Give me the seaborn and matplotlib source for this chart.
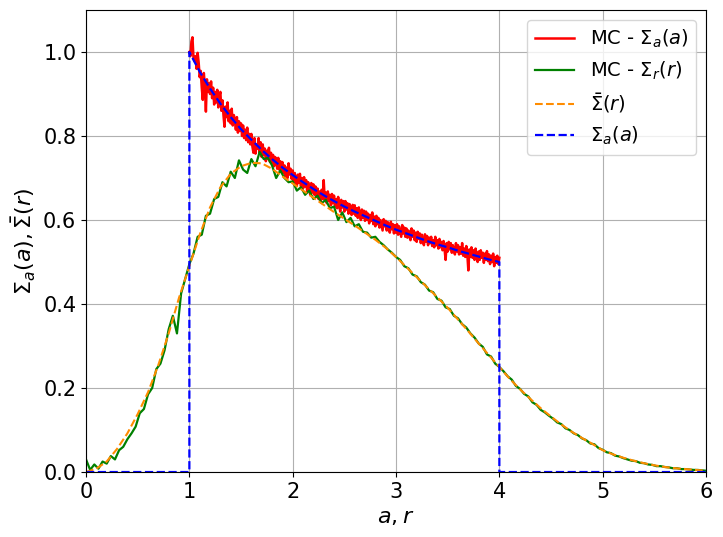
import numpy as np
import matplotlib
matplotlib.use('Agg')
import matplotlib.pyplot as plt
import seaborn as sns

# analytic ring profile Sigma_a(a)
sig_a_x = [0.0, 1.0, 1.0, 1.1, 1.2, 1.3, 1.4, 1.5, 1.6, 1.7, 1.8, 1.9, 2.0,
           2.1, 2.2, 2.3, 2.4, 2.5, 2.6, 2.7, 2.8, 2.9, 3.0, 3.1, 3.2, 3.3,
           3.4, 3.5, 3.6, 3.7, 3.8, 3.9, 4.0, 4.0, 6.0]
sig_a_y = [0.0, 0.0, 1.0, 0.953, 0.913, 0.877, 0.845, 0.816, 0.791, 0.767,
           0.745, 0.725, 0.707, 0.690, 0.674, 0.659, 0.645, 0.632, 0.620,
           0.609, 0.598, 0.587, 0.577, 0.568, 0.559, 0.550, 0.542, 0.535,
           0.527, 0.520, 0.513, 0.506, 0.500, 0.0, 0.0]

# smoothed profile Sigma_bar(r), every 0.1
sig_bar = [0.000, 0.008, 0.025, 0.055, 0.092, 0.138, 0.190, 0.255, 0.330, 0.415,
           0.490, 0.565, 0.630, 0.678, 0.710, 0.728, 0.736, 0.735, 0.722, 0.704,
           0.687, 0.670, 0.653, 0.636, 0.619, 0.603, 0.587, 0.570, 0.553, 0.534,
           0.512, 0.488, 0.464, 0.440, 0.416, 0.391, 0.363, 0.335, 0.306, 0.278,
           0.250, 0.222, 0.197, 0.174, 0.152, 0.132, 0.113, 0.096, 0.081, 0.067,
           0.052, 0.042, 0.034, 0.027, 0.021, 0.016, 0.012, 0.009, 0.007, 0.005,
           0.003]

# Monte Carlo Sigma_a(a), bins of 0.01 from 1 to 4
mc_a = [1.000, 0.990, 1.025, 1.035, 0.985, 0.978, 0.990, 0.960, 0.998, 0.975,
        0.940, 0.955, 0.915, 0.886, 0.950, 0.920, 0.858, 0.935, 0.905, 0.925,
        0.900, 0.930, 0.890, 0.915, 0.875, 0.905, 0.880, 0.910, 0.868, 0.895,
        0.905, 0.860, 0.885, 0.850, 0.822, 0.870, 0.845, 0.880, 0.835, 0.860,
        0.830, 0.865, 0.825, 0.850, 0.840, 0.815, 0.845, 0.808, 0.835, 0.812,
        0.830, 0.800, 0.825, 0.795, 0.815, 0.790, 0.820, 0.785, 0.805, 0.780,
        0.805, 0.775, 0.760, 0.795, 0.758, 0.780, 0.770, 0.795, 0.760, 0.785,
        0.750, 0.780, 0.755, 0.770, 0.740, 0.765, 0.745, 0.772, 0.738, 0.760,
        0.735, 0.755, 0.728, 0.750, 0.745, 0.722, 0.748, 0.720, 0.740, 0.715,
        0.738, 0.712, 0.730, 0.705, 0.725, 0.700, 0.735, 0.708, 0.722, 0.698,
        0.718, 0.690, 0.712, 0.695, 0.682, 0.708, 0.688, 0.710, 0.680, 0.700,
        0.675, 0.702, 0.680, 0.695, 0.668, 0.690, 0.672, 0.660, 0.688, 0.665,
        0.685, 0.660, 0.680, 0.655, 0.675, 0.650, 0.668, 0.645, 0.672, 0.650,
        0.695, 0.648, 0.665, 0.640, 0.668, 0.645, 0.660, 0.635, 0.662, 0.640,
        0.658, 0.632, 0.650, 0.628, 0.655, 0.635, 0.620, 0.648, 0.630, 0.645,
        0.620, 0.645, 0.625, 0.640, 0.615, 0.638, 0.622, 0.612, 0.636, 0.615,
        0.635, 0.610, 0.628, 0.605, 0.630, 0.612, 0.600, 0.625, 0.605, 0.622,
        0.598, 0.620, 0.600, 0.615, 0.592, 0.612, 0.598, 0.618, 0.590, 0.608,
        0.585, 0.610, 0.590, 0.605, 0.582, 0.600, 0.588, 0.575, 0.602, 0.585,
        0.598, 0.575, 0.595, 0.580, 0.570, 0.596, 0.578, 0.590, 0.568, 0.588,
        0.570, 0.590, 0.565, 0.585, 0.572, 0.560, 0.588, 0.568, 0.582, 0.560,
        0.580, 0.558, 0.575, 0.562, 0.552, 0.580, 0.560, 0.575, 0.552, 0.570,
        0.548, 0.572, 0.555, 0.568, 0.545, 0.565, 0.550, 0.540, 0.566, 0.548,
        0.562, 0.540, 0.558, 0.545, 0.560, 0.538, 0.552, 0.535, 0.560, 0.540,
        0.552, 0.532, 0.555, 0.535, 0.548, 0.528, 0.550, 0.530, 0.505, 0.545,
        0.525, 0.548, 0.530, 0.545, 0.522, 0.540, 0.528, 0.518, 0.545, 0.525,
        0.540, 0.518, 0.535, 0.520, 0.545, 0.515, 0.532, 0.512, 0.538, 0.518,
        0.480, 0.530, 0.512, 0.535, 0.510, 0.528, 0.505, 0.532, 0.512, 0.500,
        0.525, 0.505, 0.528, 0.510, 0.522, 0.498, 0.520, 0.505, 0.526, 0.502,
        0.518, 0.495, 0.515, 0.500, 0.520, 0.490, 0.512, 0.498, 0.515, 0.495,
        0.510]

# Monte Carlo Sigma_r(r), bins of 0.04 from 0 to 6
mc_r = [0.030, 0.005, 0.018, 0.008, 0.025, 0.020, 0.038, 0.030, 0.052, 0.060,
        0.078, 0.092, 0.108, 0.140, 0.150, 0.185, 0.200, 0.245, 0.258, 0.290,
        0.340, 0.372, 0.330, 0.425, 0.460, 0.495, 0.520, 0.560, 0.565, 0.610,
        0.615, 0.650, 0.655, 0.690, 0.680, 0.715, 0.700, 0.742, 0.720, 0.712,
        0.745, 0.728, 0.762, 0.745, 0.748, 0.730, 0.700, 0.718, 0.700, 0.690,
        0.692, 0.670, 0.678, 0.660, 0.670, 0.650, 0.658, 0.640, 0.648, 0.628,
        0.632, 0.600, 0.618, 0.595, 0.605, 0.585, 0.590, 0.572, 0.570, 0.558,
        0.560, 0.548, 0.540, 0.530, 0.522, 0.512, 0.505, 0.490, 0.485, 0.470,
        0.466, 0.452, 0.446, 0.432, 0.428, 0.412, 0.408, 0.392, 0.388, 0.372,
        0.366, 0.352, 0.344, 0.330, 0.320, 0.306, 0.298, 0.280, 0.275, 0.258,
        0.250, 0.240, 0.228, 0.220, 0.205, 0.198, 0.186, 0.180, 0.166, 0.160,
        0.148, 0.142, 0.134, 0.127, 0.118, 0.114, 0.104, 0.100, 0.092, 0.088,
        0.080, 0.076, 0.068, 0.066, 0.057, 0.053, 0.047, 0.045, 0.039, 0.037,
        0.033, 0.030, 0.027, 0.026, 0.022, 0.021, 0.018, 0.017, 0.014, 0.014,
        0.012, 0.011, 0.009, 0.009, 0.007, 0.007, 0.006, 0.005, 0.005, 0.004,
        0.003]

a_mc = np.linspace(1, 4, len(mc_a))
r_mc = np.linspace(0, 6, len(mc_r))
r_bar = np.linspace(0, 6, len(sig_bar))

fig, ax = plt.subplots(figsize=(7.23, 5.37), dpi=100)
plt.subplots_adjust(left=0.119, right=0.9765, top=0.9814, bottom=0.121)

sns.lineplot(x=a_mc, y=mc_a, color='red', lw=1.8, label=r'MC - $\Sigma_a(a)$',
             estimator=None, sort=False, ax=ax)
sns.lineplot(x=r_mc, y=mc_r, color='green', lw=1.6, label=r'MC - $\Sigma_r(r)$',
             estimator=None, sort=False, ax=ax)
sns.lineplot(x=r_bar, y=sig_bar, color='darkorange', lw=1.5, linestyle='--',
             label=r'$\bar{\Sigma}(r)$', estimator=None, sort=False, ax=ax)
sns.lineplot(x=sig_a_x, y=sig_a_y, color='blue', lw=1.6, linestyle='--',
             label=r'$\Sigma_a(a)$', estimator=None, sort=False, ax=ax)

ax.set_xlim(0, 6)
ax.set_ylim(0, 1.1)
ax.grid(True)
ax.tick_params(labelsize=15)
ax.set_xlabel(r'$a, r$', fontsize=16)
ax.set_ylabel(r'$\Sigma_a(a), \bar{\Sigma}(r)$', fontsize=16)
ax.legend(loc='upper right', fontsize=14)

plt.savefig('out.png', dpi=100)
